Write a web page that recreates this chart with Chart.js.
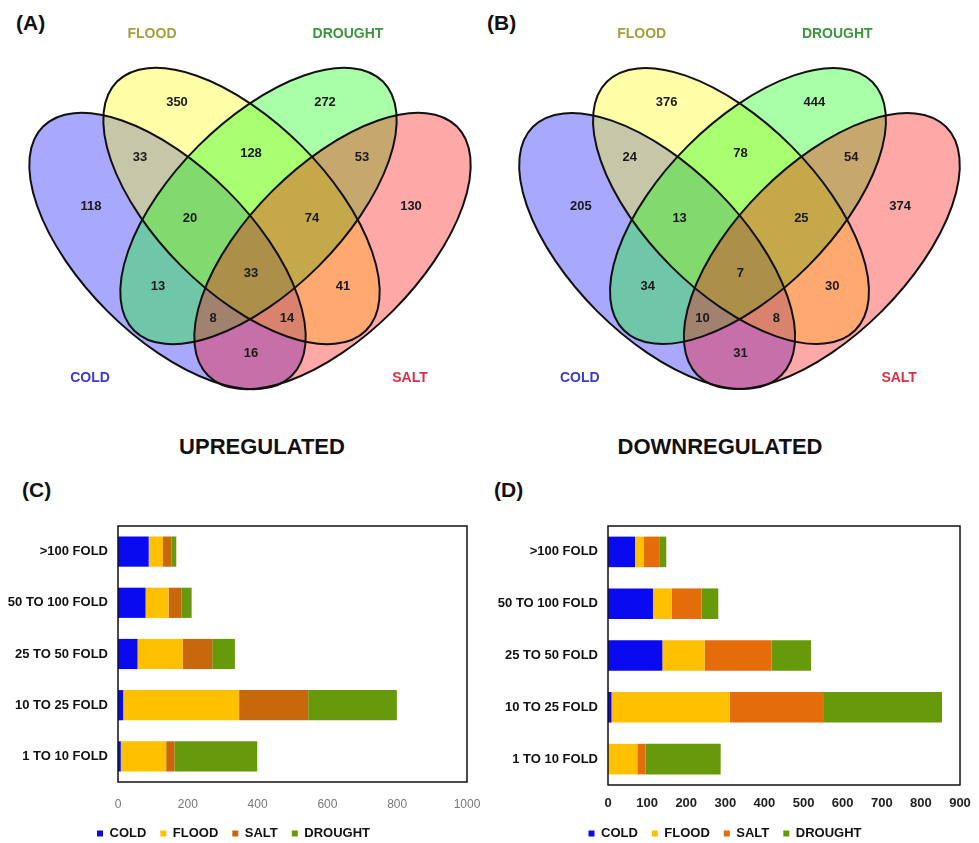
<!DOCTYPE html>
<html>
<head>
<meta charset="utf-8">
<script src="https://cdn.jsdelivr.net/npm/chart.js@4.4.1/dist/chart.umd.min.js"></script>
<style>
  html, body { margin: 0; padding: 0; background: #fff; }
  body { width: 979px; height: 843px; position: relative; overflow: hidden; font-family: 'Liberation Sans', Arial, sans-serif; }
  canvas { position: absolute; }
  .tag { position: absolute; font-weight: bold; font-size: 21px; line-height: 1; color: #111; }
  .head { position: absolute; font-weight: bold; font-size: 22px; line-height: 1; color: #111; width: 300px; text-align: center; }
</style>
</head>
<body>
<div class="tag" style="left:16px;top:12px">(A)</div>
<div class="tag" style="left:487px;top:12px">(B)</div>
<div class="tag" style="left:22px;top:479px">(C)</div>
<div class="tag" style="left:494px;top:479px">(D)</div>
<div class="head" style="left:112px;top:436px">UPREGULATED</div>
<div class="head" style="left:570px;top:436px">DOWNREGULATED</div>

<canvas id="vennUp" width="490" height="400" style="left:0;top:0"></canvas>
<canvas id="vennDown" width="489" height="400" style="left:490px;top:0"></canvas>
<canvas id="barUp" width="490" height="380" style="left:0;top:470px"></canvas>
<canvas id="barDown" width="489" height="380" style="left:490px;top:470px"></canvas>

<script>
// venn regions, same order for both panels
const regionNames = ['COLD', 'FLOOD', 'DROUGHT', 'SALT', 'COLD+FLOOD', 'FLOOD+DROUGHT', 'DROUGHT+SALT',
  'COLD+FLOOD+DROUGHT', 'FLOOD+DROUGHT+SALT', 'COLD+DROUGHT', 'ALL', 'FLOOD+SALT',
  'COLD+DROUGHT+SALT', 'COLD+FLOOD+SALT', 'COLD+SALT']
const upCounts = [118, 350, 272, 130, 33, 128, 53, 20, 74, 13, 33, 41, 8, 14, 16]
const downCounts = [205, 376, 444, 374, 24, 78, 54, 13, 25, 34, 7, 30, 10, 8, 31]

// bar charts
const foldLabels = ['>100 FOLD', '50 TO 100 FOLD', '25 TO 50 FOLD', '10 TO 25 FOLD', '1 TO 10 FOLD']
const seriesNames = ['COLD', 'FLOOD', 'SALT', 'DROUGHT']
const upCold = [88, 79, 56, 15, 8]
const upFlood = [41, 66, 130, 332, 130]
const upSalt = [24, 37, 84, 198, 24]
const upDrought = [14, 29, 65, 254, 237]
const downCold = [69, 115, 139, 9, 0]
const downFlood = [23, 48, 108, 302, 75]
const downSalt = [39, 76, 171, 239, 21]
const downDrought = [18, 43, 101, 304, 192]

// ---- layout (venn drawing units = canvas px) ----
const ellipses = [
  {name: 'COLD', cx: 167.5, cy: 251, rot: 45, fill: 'rgba(0,0,255,0.34)'},
  {name: 'FLOOD', cx: 241.5, cy: 206, rot: 45, fill: 'rgba(255,255,0,0.34)'},
  {name: 'DROUGHT', cx: 258.5, cy: 206, rot: -45, fill: 'rgba(0,255,0,0.34)'},
  {name: 'SALT', cx: 332.5, cy: 251, rot: -45, fill: 'rgba(255,0,0,0.34)'},
]
const ellA = 176
const ellB = 85
const regionSpots = [[91, 206], [177, 102], [325, 102], [411, 206], [140, 157], [251, 153], [362, 157],
  [190, 218], [312, 218], [158, 286], [251, 273], [343, 286], [213, 318], [287, 318], [251, 353]]
const setTitles = [
  {text: 'FLOOD', x: 152, y: 34, color: '#a3a03f'},
  {text: 'DROUGHT', x: 348, y: 34, color: '#3c963c'},
  {text: 'COLD', x: 90, y: 378, color: '#3a3ad6'},
  {text: 'SALT', x: 410, y: 378, color: '#dc2f45'},
]

const vennPlugin = {
  id: 'venn',
  beforeDatasetsDraw(chart) {
    const {ctx, scales: {x, y}} = chart
    const draw = (e) => {
      const px = x.getPixelForValue(e.cx)
      const py = y.getPixelForValue(e.cy)
      const rx = Math.abs(x.getPixelForValue(e.cx + ellA) - px)
      const ry = Math.abs(y.getPixelForValue(e.cy + ellB) - py)
      ctx.beginPath()
      ctx.ellipse(px, py, rx, ry, e.rot * Math.PI / 180, 0, Math.PI * 2)
    }
    ctx.save()
    ellipses.forEach((e) => {
      draw(e)
      ctx.fillStyle = e.fill
      ctx.fill()
    })
    ctx.lineWidth = 2
    ctx.strokeStyle = '#111'
    ellipses.forEach((e) => {
      draw(e)
      ctx.stroke()
    })
    ctx.textAlign = 'center'
    ctx.textBaseline = 'middle'
    ctx.font = "bold 14px 'Liberation Sans', Arial, sans-serif"
    setTitles.forEach((t) => {
      ctx.fillStyle = t.color
      ctx.fillText(t.text, x.getPixelForValue(t.x), y.getPixelForValue(t.y))
    })
    ctx.restore()
  },
  afterDatasetsDraw(chart) {
    const {ctx} = chart
    const counts = chart.options.plugins.venn.counts
    const pts = chart.getDatasetMeta(0).data
    ctx.save()
    ctx.textAlign = 'center'
    ctx.textBaseline = 'middle'
    ctx.fillStyle = '#1a1a1a'
    ctx.font = "bold 13px 'Liberation Sans', Arial, sans-serif"
    pts.forEach((p, i) => ctx.fillText(String(counts[i]), p.x, p.y))
    ctx.restore()
  },
}

function makeVenn(id, counts) {
  new Chart(document.getElementById(id), {
    type: 'scatter',
    data: {
      datasets: [{
        label: 'regions',
        data: regionSpots.map((p) => ({x: p[0], y: p[1]})),
        pointRadius: 0,
      }],
    },
    options: {
      responsive: false,
      animation: false,
      layout: {padding: 0},
      scales: {
        x: {type: 'linear', min: 0, max: 490, display: false},
        y: {type: 'linear', min: 0, max: 400, reverse: true, display: false},
      },
      plugins: {
        legend: {display: false},
        tooltip: {enabled: false},
        venn: {counts: counts},
      },
    },
    plugins: [vennPlugin],
  })
}

makeVenn('vennUp', upCounts)
makeVenn('vennDown', downCounts)

const frame = {
  id: 'frame',
  afterDatasetsDraw(chart) {
    const {ctx, chartArea: a} = chart
    ctx.save()
    ctx.lineWidth = 1.5
    ctx.strokeStyle = '#111'
    ctx.strokeRect(a.left, a.top, a.right - a.left, a.bottom - a.top)
    ctx.restore()
  },
}

const narrow = "'Liberation Sans Narrow', 'Arial Narrow', 'Liberation Sans', sans-serif"

function makeBar(id, cols, max, step, saltColor, tickStyle, rightPad, xHeight, tickPad) {
  const colors = ['#0a0af0', '#ffc000', saltColor, '#669a0a']
  new Chart(document.getElementById(id), {
    type: 'bar',
    data: {
      labels: foldLabels,
      datasets: cols.map((d, i) => ({
        label: seriesNames[i],
        data: d,
        backgroundColor: colors[i],
        borderWidth: 0,
        barPercentage: 0.59,
        categoryPercentage: 1,
      })),
    },
    options: {
      responsive: false,
      animation: false,
      indexAxis: 'y',
      layout: {padding: {top: 56, right: rightPad, left: 0, bottom: 0}},
      scales: {
        x: {
          stacked: true, min: 0, max: max,
          ticks: {stepSize: step, padding: tickPad, color: tickStyle.color, font: tickStyle.font,
            callback: (v) => String(v)},
          grid: {display: false, drawTicks: false},
          border: {display: false},
          afterFit: (s) => {
            s.height = xHeight
            s.paddingLeft = 0
            s.paddingRight = 0
          },
        },
        y: {
          stacked: true,
          ticks: {padding: 10, color: '#111', font: {family: narrow, size: 13, weight: 'bold'}},
          grid: {display: false, drawTicks: false},
          border: {display: false},
          afterFit: (s) => { s.width = 118 },
        },
      },
      plugins: {
        tooltip: {enabled: false},
        legend: {
          position: 'bottom',
          labels: {
            usePointStyle: true, pointStyle: 'rect', boxWidth: 6, boxHeight: 6, padding: 14,
            color: '#111', font: {family: narrow, size: 13, weight: 'bold'},
          },
        },
      },
    },
    plugins: [frame],
  })
}

makeBar('barUp', [upCold, upFlood, upSalt, upDrought], 1000, 200, '#c8680a',
  {color: '#777', font: {family: "'Liberation Sans', Arial, sans-serif", size: 12}}, 23, 31, 15)
makeBar('barDown', [downCold, downFlood, downSalt, downDrought], 900, 100, '#e46c0a',
  {color: '#222', font: {family: narrow, size: 13, weight: 'bold'}}, 19, 28, 11)
</script>
</body>
</html>
